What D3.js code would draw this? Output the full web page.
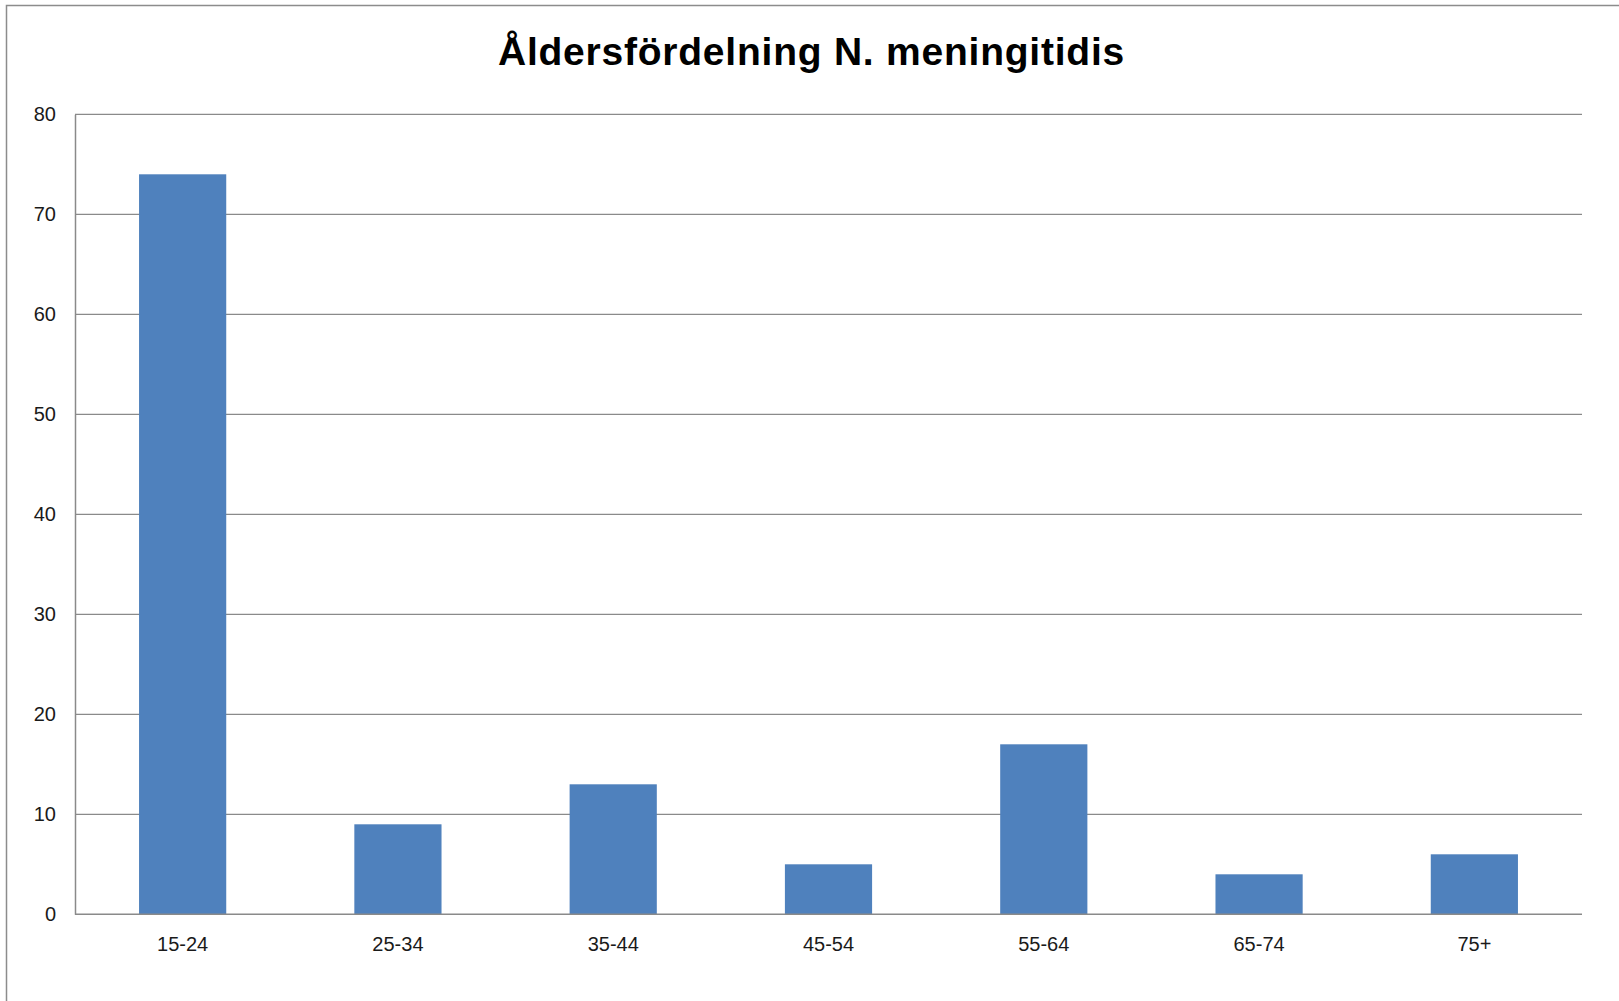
<!DOCTYPE html>
<html>
<head>
<meta charset="utf-8">
<script src="https://cdn.jsdelivr.net/npm/d3@7/dist/d3.min.js"></script>
<style>
  html, body { margin: 0; padding: 0; background: #fff; }
  svg { display: block; }
  text { font-family: "Liberation Sans", Arial, sans-serif; }
</style>
</head>
<body>
<svg id="chart" width="1619" height="1001"></svg>
<script>
// Age groups and number of cases
const categories = ["15-24", "25-34", "35-44", "45-54", "55-64", "65-74", "75+"];
const cases = [74, 9, 13, 5, 17, 4, 6];
const yTicks = [0, 10, 20, 30, 40, 50, 60, 70, 80];
const title = "Åldersfördelning N. meningitidis";

const svg = d3.select("#chart");
const plot = { left: 75, right: 1582, top: 114.3, bottom: 914.3 };

// Outer chart frame (left and top edges)
svg.append("path")
  .attr("d", `M6.5,1001 V5.5 H1619`)
  .attr("fill", "none")
  .attr("stroke", "#8c8c8c")
  .attr("stroke-width", 1.5);

const x = d3.scaleBand()
  .domain(categories)
  .range([plot.left, plot.right])
  .paddingInner(0.595)
  .paddingOuter(0.2975);

const y = d3.scaleLinear()
  .domain([0, 80])
  .range([plot.bottom, plot.top]);

// Horizontal gridlines
svg.append("g")
  .selectAll("line")
  .data(yTicks.filter(t => t > 0))
  .join("line")
  .attr("x1", plot.left).attr("x2", plot.right)
  .attr("y1", d => y(d)).attr("y2", d => y(d))
  .attr("stroke", "#8a8a8a")
  .attr("stroke-width", 1.2);

// Bars
svg.append("g")
  .selectAll("rect")
  .data(categories.map((c, i) => ({ c, v: cases[i] })))
  .join("rect")
  .attr("x", d => x(d.c))
  .attr("width", x.bandwidth())
  .attr("y", d => y(d.v))
  .attr("height", d => y(0) - y(d.v))
  .attr("fill", "#4f81bd");

// Y axis
const yAxis = svg.append("g")
  .attr("transform", `translate(${plot.left},0)`)
  .call(d3.axisLeft(y).tickValues(yTicks).tickSize(0).tickPadding(19));
yAxis.select(".domain").attr("stroke", "#8a8a8a").attr("stroke-width", 1.5);
yAxis.selectAll("text")
  .attr("font-size", 20)
  .attr("font-family", "Liberation Sans, Arial, sans-serif")
  .attr("fill", "#1a1a1a");

// X axis
const xAxis = svg.append("g")
  .attr("transform", `translate(0,${plot.bottom})`)
  .call(d3.axisBottom(x).tickSize(0).tickPadding(23));
xAxis.select(".domain").attr("stroke", "#8a8a8a").attr("stroke-width", 1.5)
  .attr("d", `M${plot.left},0H${plot.right}`);
xAxis.selectAll("text")
  .attr("font-size", 20)
  .attr("font-family", "Liberation Sans, Arial, sans-serif")
  .attr("fill", "#1a1a1a");

// Title
const t = svg.append("text")
  .attr("x", 811.5)
  .attr("y", 65)
  .attr("text-anchor", "middle")
  .attr("font-size", 39)
  .attr("font-weight", "bold")
  .attr("fill", "#000")
  .text(title);
const targetWidth = 627;
const w = t.node().getComputedTextLength();
t.attr("letter-spacing", ((targetWidth - w) / title.length).toFixed(2) + "px");
</script>
</body>
</html>
